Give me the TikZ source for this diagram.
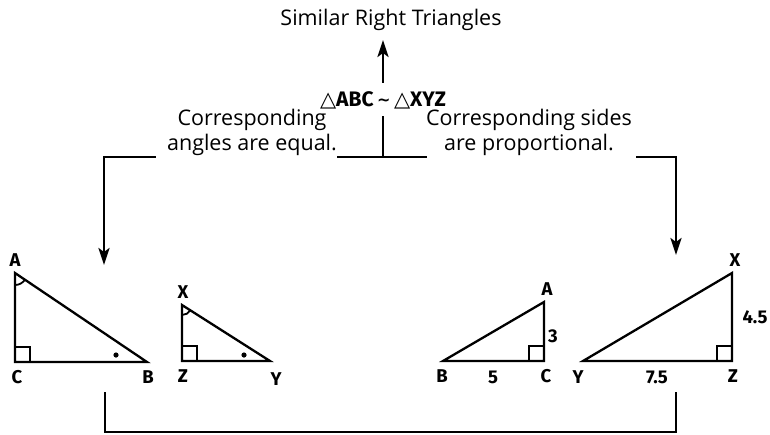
\documentclass[tikz,border=0pt]{standalone}
\usepackage{fontspec}
\setmainfont{Open Sans}
\newfontfamily\labfont{Fira Sans}
\newfontfamily\symfont{DejaVu Sans}
\usetikzlibrary{arrows.meta}
\begin{document}
\begin{tikzpicture}[x=1pt,y=-1pt,
  conn/.style={line width=2.8pt,line cap=rect},
  arr/.style={conn,-{Stealth[length=17pt,width=11pt,inset=4pt]}},
  tri/.style={line width=2.3pt,line join=miter},
  thin/.style={line width=1.8pt},
  titletext/.style={font=\fontsize{21.5}{25}\selectfont,inner sep=0pt},
  bodytext/.style={font=\fontsize{21.5}{25}\selectfont,align=center,inner sep=0pt},
  lab/.style={font=\labfont\bfseries\fontsize{18.5}{20}\selectfont,inner sep=0pt},
  simtext/.style={font=\labfont\bfseries\fontsize{21}{24}\selectfont,inner sep=0pt}
]
\useasboundingbox (0,0) rectangle (770,434);
\fill[white] (0,0) rectangle (770,434);

% texts
\node[titletext,anchor=base] (title) at (391,25) {Similar Right Triangles};
\node[simtext] (sim) at (383,100) {{\symfont △}ABC\,{\symfont\fontsize{16}{16}\selectfont\raisebox{1pt}{\textasciitilde}}\,{\symfont △}XYZ};
\node[bodytext,anchor=base] (angles) at (252,150) {Corresponding\\angles are equal.};
\node[bodytext,anchor=base] (sides) at (529,150) {Corresponding sides\\are proportional.};

% junction coordinates
\coordinate (up1) at (383,82);
\coordinate (up2) at (383,40);
\coordinate (m1) at (383,117);
\coordinate (m2) at (383,157);
\coordinate (mL) at (338,157);
\coordinate (mR) at (426,157);
\coordinate (L1) at (155,157);
\coordinate (L2) at (104,157);
\coordinate (L3) at (104,265);
\coordinate (R1) at (637,157);
\coordinate (R2) at (676,157);
\coordinate (R3) at (676,255);
\coordinate (b1) at (105,393);
\coordinate (b2) at (105,432);
\coordinate (b3) at (676,432);
\coordinate (b4) at (676,393);

% connectors
\draw[arr] (up1) -- (up2);
\draw[conn] (m1) -- (m2);
\draw[conn] (mL) -- (mR);
\draw[arr] (L1) -- (L2) -- (L3);
\draw[arr] (R1) -- (R2) -- (R3);
\draw[conn] (b1) -- (b2) -- (b3) -- (b4);

% triangle ABC (left)
\coordinate (A1) at (15,273);
\coordinate (C1) at (15,362);
\coordinate (B1) at (147,362);
\draw[tri] (A1) -- (C1) -- (B1) -- cycle;
\draw[thin] (C1) ++(15,0) -- ++(0,-15) -- ++(-15,0);
\draw[thin] (A1) ++(0,12) arc[start angle=90,end angle=34,radius=12];
\fill (116,355) circle[radius=2.6];
\node[lab] (lA1) at (15,260) {A};
\node[lab] (lC1) at (17,377) {C};
\node[lab] (lB1) at (148,377) {B};

% triangle XYZ (left)
\coordinate (X1) at (182,305);
\coordinate (Z1) at (182,361);
\coordinate (Y1) at (270,361);
\draw[tri] (X1) -- (Z1) -- (Y1) -- cycle;
\draw[thin] (Z1) ++(15,0) -- ++(0,-15) -- ++(-15,0);
\draw[thin] (X1) ++(0,10) arc[start angle=90,end angle=32,radius=10];
\fill (244,355) circle[radius=2.6];
\node[lab] (lX1) at (183,292) {X};
\node[lab] (lZ1) at (183,376) {Z};
\node[lab] (lY1) at (276,379) {Y};

% triangle ABC (right)
\coordinate (B2) at (443,361);
\coordinate (C2) at (544,361);
\coordinate (A2) at (544,302);
\draw[tri] (B2) -- (C2) -- (A2) -- cycle;
\draw[thin] (C2) ++(-15,0) -- ++(0,-15) -- ++(15,0);
\node[lab] (lA2) at (547,289) {A};
\node[lab] (lB2) at (442,376) {B};
\node[lab] (lC2) at (546,376) {C};
\node[lab] (l3) at (553,336) {3};
\node[lab] (l5) at (493,377) {5};

% triangle XYZ (right)
\coordinate (Y2) at (583,361);
\coordinate (Z2) at (732,361);
\coordinate (X2) at (732,273);
\draw[tri] (Y2) -- (Z2) -- (X2) -- cycle;
\draw[thin] (Z2) ++(-15,0) -- ++(0,-15) -- ++(15,0);
\node[lab] (lX2) at (735,260) {X};
\node[lab] (lY2) at (578,377) {Y};
\node[lab] (lZ2) at (733,376) {Z};
\node[lab] (l45) at (755,317) {4.5};
\node[lab] (l75) at (657,377) {7.5};
\end{tikzpicture}
\end{document}
